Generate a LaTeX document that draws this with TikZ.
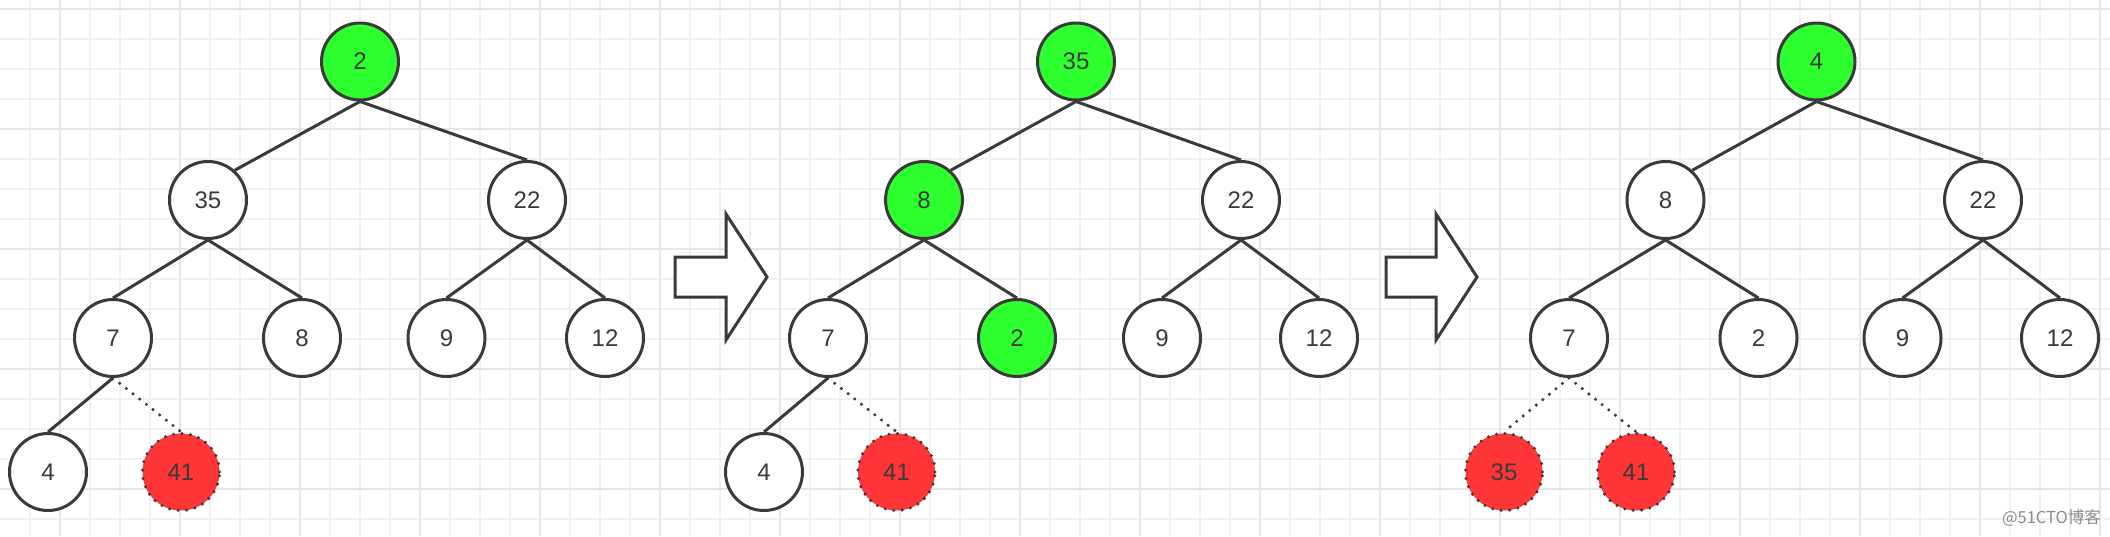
\documentclass[tikz,border=0pt]{standalone}
\usepackage{fontspec}
\setmainfont{Liberation Sans}
\newfontfamily\cjk{Noto Sans CJK SC}
\definecolor{gridminor}{HTML}{F1F1F1}
\definecolor{gridmajor}{HTML}{E6E6E6}
\definecolor{ink}{HTML}{3A3A3A}
\definecolor{hgreen}{HTML}{2EFF2E}
\definecolor{hred}{HTML}{FF3538}
\definecolor{wm}{HTML}{8C8C8C}
\tikzset{
  nd/.style={circle, draw=ink, line width=3pt, fill=white, minimum size=77pt, inner sep=0pt,
    text=ink, font=\fontsize{24}{24}\selectfont},
  gn/.style={nd, fill=hgreen},
  rn/.style={nd, fill=hred, draw=ink, dash pattern=on 0pt off 8.5pt, line cap=round, line width=3.4pt},
  ed/.style={draw=ink, line width=3pt},
  dt/.style={draw=ink, line width=3.4pt, dash pattern=on 0pt off 8.5pt, line cap=round},
  arr/.style={draw=ink, fill=white, line width=3pt, line join=miter}
}
\begin{document}
\begin{tikzpicture}[x=1pt, y=-1pt]
\useasboundingbox (0,0) rectangle (2110,536);
\fill[white] (0,0) rectangle (2110,536);
% grid
\foreach \i in {0,...,69} {
  \draw[gridminor, line width=2pt] ({29.5+30*\i},0) -- ({29.5+30*\i},536);
}
\foreach \i in {0,...,17} {
  \draw[gridminor, line width=2pt] (0,{9+30*\i}) -- (2110,{9+30*\i});
}
\foreach \i in {0,...,17} {
  \draw[gridmajor, line width=2pt] ({59.5+120*\i},0) -- ({59.5+120*\i},536);
}
\foreach \i in {0,...,4} {
  \draw[gridmajor, line width=2pt] (0,{9+120*\i}) -- (2110,{9+120*\i});
}
% arrows
\draw[arr] (675,257) -- (726,257) -- (726,214) -- (767,277) -- (726,340) -- (726,297) -- (675,297) -- cycle;
\draw[arr] (1386,257) -- (1436,257) -- (1436,214) -- (1477,277) -- (1436,340) -- (1436,297) -- (1386,297) -- cycle;
% tree 1
\node[gn] (r1) at (360,61.5) {2};
\node[nd] (a1) at (208,200) {35};
\node[nd] (b1) at (527,200) {22};
\node[nd] (c1) at (113,338) {7};
\node[nd] (d1) at (302,338) {8};
\node[nd] (e1) at (446.5,338) {9};
\node[nd] (f1) at (605,338) {12};
\node[nd] (g1) at (48,472) {4};
\node[rn] (h1) at (181,472) {41};
% tree 2
\node[gn] (r2) at (1076,61.5) {35};
\node[gn] (a2) at (924,200) {8};
\node[nd] (b2) at (1241,200) {22};
\node[nd] (c2) at (828,338) {7};
\node[gn] (d2) at (1017,338) {2};
\node[nd] (e2) at (1162,338) {9};
\node[nd] (f2) at (1319,338) {12};
\node[nd] (g2) at (764,472) {4};
\node[rn] (h2) at (896.5,472) {41};
% tree 3
\node[gn] (r3) at (1816.5,61.5) {4};
\node[nd] (a3) at (1665.5,200) {8};
\node[nd] (b3) at (1983,200) {22};
\node[nd] (c3) at (1569,338) {7};
\node[nd] (d3) at (1758.5,338) {2};
\node[nd] (e3) at (1902.5,338) {9};
\node[nd] (f3) at (2060,338) {12};
\node[rn] (g3) at (1504,472) {35};
\node[rn] (h3) at (1636,472) {41};
% edges
\foreach \t in {1,2,3} {
  \draw[ed] (r\t.south) -- (a\t.48);
  \draw[ed] (r\t.south) -- (b\t.north);
  \draw[ed] (a\t.south) -- (c\t.north);
  \draw[ed] (a\t.south) -- (d\t.north);
  \draw[ed] (b\t.south) -- (e\t.north);
  \draw[ed] (b\t.south) -- (f\t.north);
}
\draw[ed] (c1.south) -- (g1.north);
\draw[dt] (c1.south) -- (h1.north);
\draw[ed] (c2.south) -- (g2.north);
\draw[dt] (c2.south) -- (h2.north);
\draw[dt] (c3.south) -- (g3.north);
\draw[dt] (c3.south) -- (h3.north);
% watermark
\node[text=wm, font=\cjk\fontsize{16.5}{16.5}\selectfont, anchor=east, inner sep=0pt] (wmk) at (2101,518) {@51CTO博客};
\end{tikzpicture}
\end{document}
